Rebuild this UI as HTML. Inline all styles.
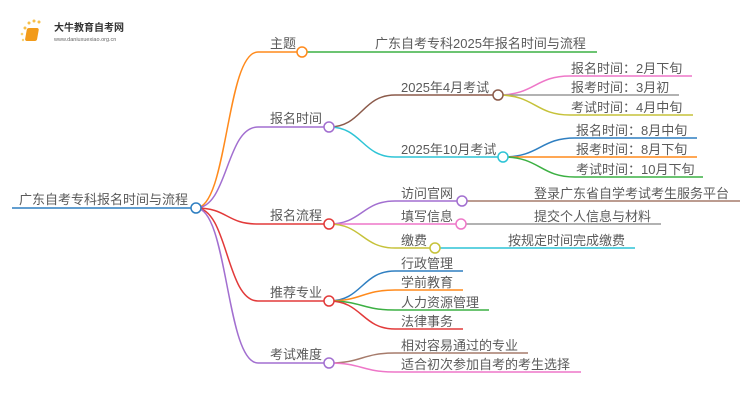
<!DOCTYPE html>
<html><head><meta charset="utf-8"><style>
html,body{margin:0;padding:0;background:#fff;}
svg{display:block}
text{font-family:"Liberation Sans","Noto Sans CJK SC",sans-serif;font-size:13px;fill:#5a5a5a;}
</style></head><body>
<svg width="750" height="410" viewBox="0 0 750 410" xmlns="http://www.w3.org/2000/svg">
<g fill="none" stroke-width="1.5">
<path d="M12 208 H196" stroke="#2f7fc1"/>
<path d="M196 208 C228 208 226 52 258 52 H302" stroke="#ff8a1c"/>
<path d="M196 208 C228 208 226 127 258 127 H329" stroke="#a26fd0"/>
<path d="M196 208 C228 208 226 224 258 224 H329" stroke="#e23a3a"/>
<path d="M196 208 C228 208 226 301 258 301 H329" stroke="#e23a3a"/>
<path d="M196 208 C228 208 226 363 258 363 H329" stroke="#a26fd0"/>
<path d="M302 52 H597" stroke="#3cb043"/>
<path d="M329 127 C362 127 362 95 395 95 H498" stroke="#8b5a4a"/>
<path d="M329 127 C362 127 362 157 395 157 H503" stroke="#2ec4d6"/>
<path d="M498 95 C535 95 535 76 570 76 H692" stroke="#ee77c8"/>
<path d="M498 95 H679" stroke="#999"/>
<path d="M498 95 C535 95 535 115 570 115 H693" stroke="#c6c23a"/>
<path d="M503 157 C540 157 540 138 575 138 H697" stroke="#2f7fc1"/>
<path d="M503 157 H697" stroke="#ff8a1c"/>
<path d="M503 157 C540 157 540 177 575 177 H703" stroke="#3cb043"/>
<path d="M329 224 C362 224 362 201 395 201 H462" stroke="#a26fd0"/>
<path d="M329 224 H461" stroke="#ee77c8"/>
<path d="M329 224 C362 224 362 248 395 248 H435" stroke="#c6c23a"/>
<path d="M462 201 H740" stroke="#a67b6b"/>
<path d="M461 224 H661" stroke="#999"/>
<path d="M435 248 H635" stroke="#2ec4d6"/>
<path d="M329 301 C362 301 362 271 395 271 H463" stroke="#2f7fc1"/>
<path d="M329 301 C362 301 362 290 395 290 H463" stroke="#ff8a1c"/>
<path d="M329 301 C362 301 362 310 395 310 H489" stroke="#3cb043"/>
<path d="M329 301 C362 301 362 329 395 329 H463" stroke="#e23a3a"/>
<path d="M329 363 C362 363 362 353 395 353 H528" stroke="#a67b6b"/>
<path d="M329 363 C362 363 362 372 395 372 H581" stroke="#ee77c8"/>
</g>
<g fill="#fff" stroke-width="1.5">
<circle cx="196" cy="208" r="5" stroke="#2f7fc1"/>
<circle cx="302" cy="52" r="5" stroke="#ff8a1c"/>
<circle cx="329" cy="127" r="5" stroke="#a26fd0"/>
<circle cx="329" cy="224" r="5" stroke="#e23a3a"/>
<circle cx="329" cy="301" r="5" stroke="#e23a3a"/>
<circle cx="329" cy="363" r="5" stroke="#a26fd0"/>
<circle cx="498" cy="95" r="5" stroke="#8b5a4a"/>
<circle cx="503" cy="157" r="5" stroke="#2ec4d6"/>
<circle cx="462" cy="201" r="5" stroke="#a26fd0"/>
<circle cx="461" cy="224" r="5" stroke="#ee77c8"/>
<circle cx="435" cy="248" r="5" stroke="#c6c23a"/>
</g>
<g>
<circle cx="25" cy="28" r="1.5" fill="#f7c04a"/><circle cx="29" cy="23" r="1.5" fill="#f7c04a"/>
<circle cx="34" cy="21" r="1.5" fill="#f7c04a"/><circle cx="39" cy="22" r="1.5" fill="#f7c04a"/>
<circle cx="22" cy="34" r="1.3" fill="#f7d070"/><circle cx="23" cy="40" r="1.2" fill="#f7d070"/>
<rect x="32" y="28" width="12" height="13" rx="2" fill="#f29b1a" transform="skewX(-10)"/>
<text x="54" y="31" style="font-size:10px;fill:#333;font-weight:bold">大牛教育自考网</text>
<text x="54" y="41" style="font-size:5.5px;fill:#666">www.daniuxuexiao.org.cn</text>
</g>
<text x="19" y="204">广东自考专科报名时间与流程</text>
<text x="270" y="48">主题</text>
<text x="270" y="123">报名时间</text>
<text x="270" y="220">报名流程</text>
<text x="270" y="297">推荐专业</text>
<text x="270" y="359">考试难度</text>
<text x="375" y="48">广东自考专科2025年报名时间与流程</text>
<text x="401" y="92">2025年4月考试</text>
<text x="401" y="154">2025年10月考试</text>
<text x="571" y="73">报名时间：2月下旬</text>
<text x="571" y="92">报考时间：3月初</text>
<text x="571" y="112">考试时间：4月中旬</text>
<text x="576" y="135">报名时间：8月中旬</text>
<text x="576" y="154">报考时间：8月下旬</text>
<text x="576" y="174">考试时间：10月下旬</text>
<text x="401" y="198">访问官网</text>
<text x="401" y="221">填写信息</text>
<text x="401" y="245">缴费</text>
<text x="534" y="198">登录广东省自学考试考生服务平台</text>
<text x="534" y="221">提交个人信息与材料</text>
<text x="508" y="245">按规定时间完成缴费</text>
<text x="401" y="268">行政管理</text>
<text x="401" y="287">学前教育</text>
<text x="401" y="307">人力资源管理</text>
<text x="401" y="326">法律事务</text>
<text x="401" y="350">相对容易通过的专业</text>
<text x="401" y="369">适合初次参加自考的考生选择</text>
</svg>
</body></html>
